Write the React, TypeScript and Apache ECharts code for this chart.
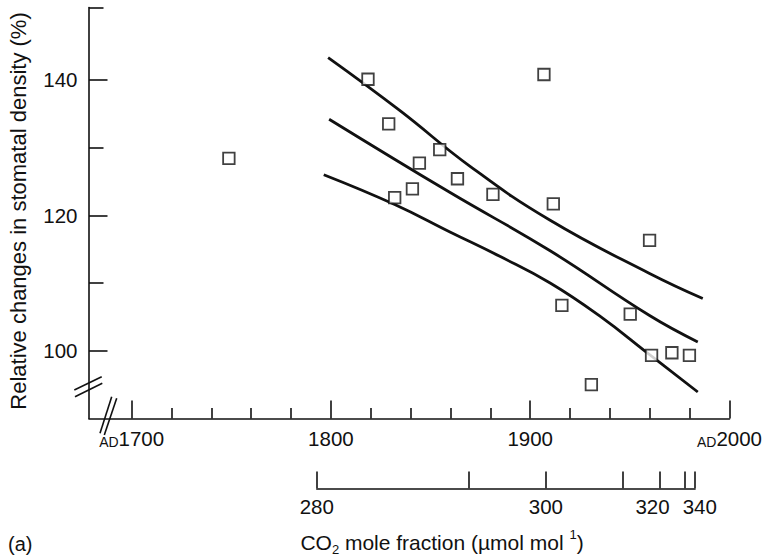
import React, { useEffect, useRef } from "react";
import * as echarts from "echarts";

// ---------- data ----------
const sampleYears = [1748.8, 1818.6, 1829.0, 1832.0, 1840.9, 1844.4, 1854.6, 1863.5, 1881.3, 1906.9, 1911.6, 1915.9, 1930.7, 1950.2, 1959.9, 1960.9, 1971.1, 1979.9];
const stomatalDensity = [128.4, 140.1, 133.5, 122.6, 123.9, 127.7, 129.7, 125.4, 123.1, 140.8, 121.7, 106.7, 95.0, 105.4, 116.3, 99.3, 99.7, 99.3];

const upperYears = [1798.6, 1834.5, 1870.0, 1909.8, 1959.9, 1986.6];
const upperValues = [143.3, 135.5, 127.2, 119.3, 111.4, 107.7];

const fitYears = [1799.1, 1859.6, 1909.8, 1959.9, 1984.1];
const fitValues = [134.2, 123.4, 114.8, 105.2, 101.3];

const lowerYears = [1796.4, 1832.0, 1860.0, 1885.0, 1910.0, 1935.0, 1960.0, 1984.1];
const lowerValues = [126.0, 121.6, 117.5, 113.9, 110.0, 105.1, 99.4, 93.9];

const yearMajorTicks = [1700, 1800, 1900, 2000];
const yearMinorTicks = [1720, 1740, 1760, 1780, 1820, 1840, 1860, 1880, 1920, 1940, 1960, 1980];

const co2TickValues = [280, 290, 300, 310, 320, 330, 340];
const co2TickYears = [1792.8, 1869.2, 1907.7, 1946.2, 1964.9, 1977.1, 1982.1];
const co2LabelValues = [280, 300, 320, 340];
const co2AxisEndYear = 1982.5;

const yMajorTicks = [100, 120, 140];
const yMin = 90;
const yMax = 150.7;
const yMinorTicks = [110, 130, yMax];

const xMin = 1678.6;
const xMax = 2000;

// ---------- layout ----------
const W = 765;
const H = 557;
const plotLeft = 89;
const plotRight = 730;
const plotTop = 7.5;
const plotBottom = 418.4;
const co2AxisY = 488.3;
const FONT = '"Liberation Sans", Arial, Helvetica, sans-serif';
const INK = "#111";
const TICK_FONT = 20.5;

const pxPerYear = (plotRight - plotLeft) / (xMax - xMin);

function zip(a: number[], b: number[]) {
  return a.map((v, i) => [v, b[i]]);
}

export default function App() {
  const ref = useRef<HTMLDivElement>(null);

  useEffect(() => {
    if (!ref.current) return;
    const chart = echarts.init(ref.current, undefined, { renderer: "svg" });

    const co2Left = plotLeft + (co2TickYears[0] - xMin) * pxPerYear;
    const co2Right = plotLeft + (co2AxisEndYear - xMin) * pxPerYear;

    const lineSeries = (data: number[][]) => ({
      type: "line",
      xAxisIndex: 0,
      yAxisIndex: 0,
      data,
      smooth: 0.45,
      symbol: "none",
      showSymbol: false,
      silent: true,
      lineStyle: { color: INK, width: 2.8 },
      z: 3,
    });

    const option: any = {
      animation: false,
      backgroundColor: "#fff",
      textStyle: { fontFamily: FONT },
      grid: [
        { left: plotLeft, right: W - plotRight, top: plotTop, bottom: H - plotBottom },
        { left: co2Left, right: W - co2Right, top: co2AxisY - 18, bottom: H - co2AxisY },
      ],
      xAxis: [
        {
          gridIndex: 0,
          type: "value",
          min: xMin,
          max: xMax,
          position: "bottom",
          axisLine: { show: true, onZero: false, lineStyle: { color: INK, width: 1.6 } },
          axisTick: { show: true, inside: true, length: 18, customValues: yearMajorTicks, lineStyle: { color: INK, width: 1.6 } },
          axisLabel: {
            show: true,
            customValues: yearMajorTicks,
            showMinLabel: true,
            showMaxLabel: true,
            margin: 10,
            color: INK,
            formatter: (v: number) =>
              v === 1700 || v === 2000 ? `{s|AD}{n|${v}}` : `{n|${v}}`,
            rich: {
              n: { fontSize: TICK_FONT, fontFamily: FONT, color: INK, lineHeight: 21 },
              s: { fontSize: 14, fontFamily: FONT, color: INK, lineHeight: 17, verticalAlign: "bottom" },
            },
          },
          splitLine: { show: false },
        },
        {
          gridIndex: 0,
          type: "value",
          min: xMin,
          max: xMax,
          position: "bottom",
          axisLine: { show: false, onZero: false },
          axisTick: { show: true, inside: true, length: 10.5, customValues: yearMinorTicks, lineStyle: { color: INK, width: 1.6 } },
          axisLabel: { show: false },
          splitLine: { show: false },
        },
        {
          gridIndex: 1,
          type: "value",
          min: co2TickYears[0],
          max: co2AxisEndYear,
          position: "bottom",
          axisLine: { show: true, onZero: false, lineStyle: { color: INK, width: 1.6 } },
          axisTick: { show: true, inside: true, length: 16.7, customValues: co2TickYears, lineStyle: { color: INK, width: 1.6 } },
          axisLabel: {
            show: true,
            customValues: co2LabelValues.map((c) => co2TickYears[co2TickValues.indexOf(c)]),
            showMinLabel: true,
            showMaxLabel: true,
            margin: 8,
            color: INK,
            formatter: (v: number) => {
              let best = 0;
              co2TickYears.forEach((y, i) => {
                if (Math.abs(y - v) < Math.abs(co2TickYears[best] - v)) best = i;
              });
              const c = co2TickValues[best];
              if (c === 320) return `{l|${c}}`;
              if (c === 340) return `{r|${c}}`;
              return `{n|${c}}`;
            },
            rich: {
              n: { fontSize: TICK_FONT, fontFamily: FONT, color: INK },
              l: { fontSize: TICK_FONT, fontFamily: FONT, color: INK, padding: [0, 15, 0, 0] },
              r: { fontSize: TICK_FONT, fontFamily: FONT, color: INK, padding: [0, 0, 0, 11] },
            },
          },
          splitLine: { show: false },
        },
      ],
      yAxis: [
        {
          gridIndex: 0,
          type: "value",
          min: yMin,
          max: yMax,
          position: "left",
          axisLine: { show: true, onZero: false, lineStyle: { color: INK, width: 1.6 } },
          axisTick: { show: true, inside: true, length: 18.5, customValues: yMajorTicks, lineStyle: { color: INK, width: 1.6 } },
          axisLabel: {
            show: true,
            customValues: yMajorTicks,
            margin: 11.5,
            color: INK,
            fontSize: TICK_FONT,
            fontFamily: FONT,
          },
          splitLine: { show: false },
        },
        {
          gridIndex: 0,
          type: "value",
          min: yMin,
          max: yMax,
          position: "left",
          axisLine: { show: false, onZero: false },
          axisTick: { show: true, inside: true, length: 14.5, customValues: yMinorTicks, lineStyle: { color: INK, width: 1.6 } },
          axisLabel: { show: false },
          splitLine: { show: false },
        },
        { gridIndex: 1, type: "value", min: 0, max: 1, show: false },
      ],
      series: [
        lineSeries(zip(upperYears, upperValues)),
        lineSeries(zip(fitYears, fitValues)),
        lineSeries(zip(lowerYears, lowerValues)),
        {
          type: "scatter",
          xAxisIndex: 0,
          yAxisIndex: 0,
          data: zip(sampleYears, stomatalDensity),
          symbol: "rect",
          symbolSize: 11.5,
          itemStyle: { color: "#fff", borderColor: INK, borderWidth: 1.8 },
          z: 5,
        },
      ],
      graphic: [
        {
          type: "text",
          x: 18,
          y: 211,
          rotation: Math.PI / 2,
          style: {
            text: "Relative changes in stomatal density (%)",
            font: `22px ${FONT}`,
            fill: INK,
            align: "center",
            verticalAlign: "middle",
          },
        },
        {
          type: "text",
          x: 442,
          y: 542,
          style: {
            text: "{n|CO}{s|2}{n| mole fraction (µmol mol }{p|1}{n|)}",
            fill: INK,
            align: "center",
            verticalAlign: "middle",
            rich: {
              n: { fontSize: 21, fontFamily: FONT, fill: INK, lineHeight: 28 },
              s: { fontSize: 13, fontFamily: FONT, fill: INK, lineHeight: 15, verticalAlign: "bottom" },
              p: { fontSize: 13, fontFamily: FONT, fill: INK, lineHeight: 15, verticalAlign: "top" },
            },
          },
        },
        {
          type: "text",
          x: 8,
          y: 544,
          style: { text: "(a)", font: `20px ${FONT}`, fill: INK, align: "left", verticalAlign: "middle" },
        },
        // axis break marks
        { type: "line", shape: { x1: 74.3, y1: 390, x2: 101.7, y2: 376.7 }, style: { stroke: INK, lineWidth: 1.6 } },
        { type: "line", shape: { x1: 75, y1: 396.7, x2: 102.3, y2: 383.3 }, style: { stroke: INK, lineWidth: 1.6 } },
        { type: "line", shape: { x1: 100, y1: 433.3, x2: 111.7, y2: 396.7 }, style: { stroke: INK, lineWidth: 1.6 } },
        { type: "line", shape: { x1: 104.3, y1: 435, x2: 116.7, y2: 398.3 }, style: { stroke: INK, lineWidth: 1.6 } },
      ],
    };

    chart.setOption(option);
    return () => chart.dispose();
  }, []);

  return (
    <div
      ref={ref}
      style={{ position: "fixed", left: 0, top: 0, width: W, height: H, background: "#fff" }}
    />
  );
}
